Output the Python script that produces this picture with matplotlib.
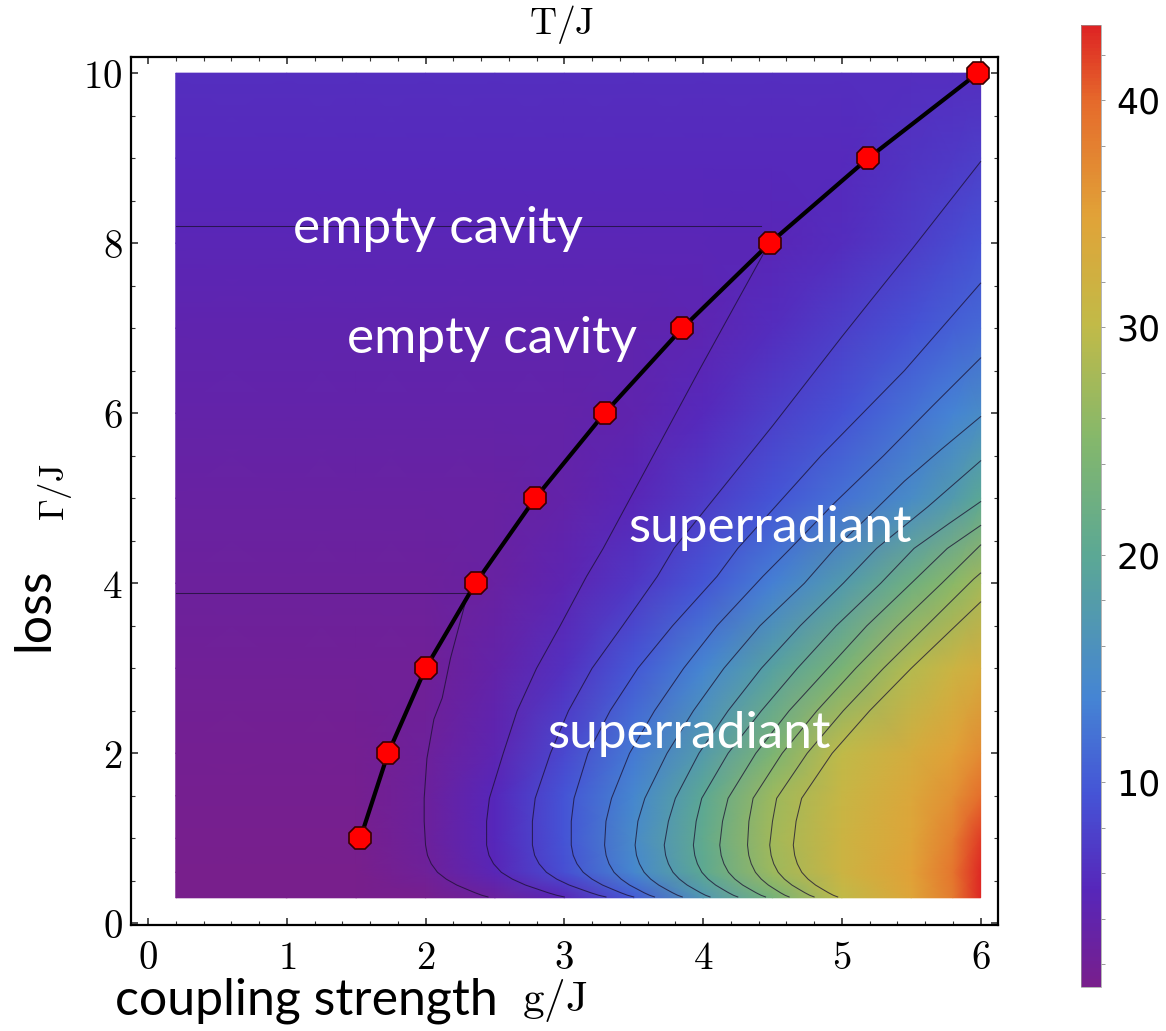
import numpy as np
import matplotlib
matplotlib.use('Agg')
import matplotlib.pyplot as plt
from matplotlib.colors import LinearSegmentedColormap

plt.rcParams['mathtext.fontset'] = 'cm'

W, H = 1166, 1031

# critical coupling for each loss rate (red markers)
gamma_pts = [1, 2, 3, 4, 5, 6, 7, 8, 9, 10]
g_crit = [1.53, 1.73, 2.00, 2.36, 2.79, 3.29, 3.85, 4.48, 5.19, 5.98]

# sampled T/J on a (loss, coupling) grid
g_grid = [0.2, 1.0, 1.5, 2.0, 2.5, 3.0, 3.5, 4.0, 4.5, 5.0, 5.5, 5.8, 6.0]
gamma_grid = [0.3, 0.6, 1.0, 1.5, 2.0, 3.0, 4.0, 5.0, 6.0, 7.0, 8.0, 9.0, 10.0]
t_field = [
    [1.0, 1.0, 1.0, 1.3, 2.7, 5.0, 10.0, 16.9, 23.2, 30.0, 34.5, 38.5, 43.0],
    [1.1, 1.1, 1.1, 2.2, 5.0, 9.0, 14.2, 20.2, 27.0, 31.5, 35.0, 39.0, 43.0],
    [1.2, 1.2, 1.2, 2.5, 5.4, 9.5, 14.8, 20.8, 27.6, 31.5, 34.5, 38.0, 42.0],
    [1.4, 1.4, 1.4, 2.5, 5.3, 9.5, 14.2, 20.1, 27.0, 31.0, 34.0, 36.5, 39.5],
    [1.6, 1.6, 1.6, 2.45, 4.6, 8.3, 12.8, 17.8, 24.1, 30.0, 33.0, 35.0, 37.0],
    [2.1, 2.1, 2.1, 2.1, 3.8, 6.25, 9.8, 13.9, 18.7, 23.8, 29.0, 31.5, 33.0],
    [2.55, 2.55, 2.55, 2.55, 3.0, 4.6, 6.85, 9.65, 13.3, 17.4, 22.5, 25.5, 27.5],
    [3.1, 3.1, 3.1, 3.1, 3.1, 3.8, 5.0, 7.2, 9.5, 12.0, 15.0, 17.5, 20.0],
    [3.7, 3.7, 3.7, 3.7, 3.7, 3.7, 4.2, 5.6, 7.5, 9.4, 12.0, 13.7, 15.0],
    [4.3, 4.3, 4.3, 4.3, 4.3, 4.3, 4.3, 4.6, 5.8, 7.5, 9.3, 10.5, 11.3],
    [4.95, 4.95, 4.95, 4.95, 4.95, 4.95, 4.95, 4.95, 5.0, 5.9, 7.3, 8.6, 9.3],
    [5.5, 5.5, 5.5, 5.5, 5.5, 5.5, 5.5, 5.5, 5.5, 5.5, 6.5, 7.1, 7.5],
    [6.0, 6.0, 6.0, 6.0, 6.0, 6.0, 6.0, 6.0, 6.0, 6.0, 6.0, 6.0, 6.0],
]

# iso-T lines traced in the (g, Gamma) plane
hook_gamma = [0.31, 0.33, 0.36, 0.40, 0.45, 0.52, 0.60, 0.70, 0.80, 0.92, 1.20]
flat_lines = [
    ([0.2, 2.31], [3.88, 3.88]),
    ([0.2, 4.42], [8.20, 8.20]),
]
iso_lines = [
    ([2.45, 2.405, 2.356, 2.297, 2.225, 2.149, 2.086, 2.041, 2.014, 2.00, 1.99,
      1.99, 2.01, 2.06, 2.12, 2.18, 2.27, 2.30],
     hook_gamma + [1.47, 1.94, 2.40, 2.65, 3.12, 3.67, 3.85]),
    ([3.00, 2.944, 2.882, 2.810, 2.720, 2.625, 2.546, 2.490, 2.457, 2.44, 2.44,
      2.46, 2.56, 2.66, 2.80, 2.97, 3.16, 3.28, 3.64, 3.97, 4.24, 4.46],
     hook_gamma + [1.47, 2.00, 2.50, 3.00, 3.50, 4.08, 4.41, 5.50, 6.50, 7.30, 7.95]),
    ([3.30, 3.247, 3.189, 3.120, 3.035, 2.945, 2.871, 2.818, 2.786, 2.77, 2.77,
      2.79, 2.90, 3.03, 3.20, 3.42, 3.67, 3.79, 4.50, 5.00, 5.22, 5.51, 6.00],
     hook_gamma + [1.47, 2.00, 2.50, 3.00, 3.50, 4.08, 4.41, 5.85, 6.90, 7.35, 7.94, 8.96]),
    ([3.50, 3.455, 3.406, 3.347, 3.275, 3.199, 3.136, 3.091, 3.064, 3.05, 3.05,
      3.07, 3.17, 3.33, 3.53, 3.78, 4.10, 4.25, 4.85, 5.45, 6.00],
     hook_gamma + [1.47, 2.00, 2.50, 3.00, 3.50, 4.08, 4.41, 5.50, 6.50, 7.53]),
    ([3.65, 3.614, 3.574, 3.528, 3.470, 3.409, 3.358, 3.322, 3.301, 3.29, 3.30,
      3.34, 3.47, 3.65, 3.86, 4.10, 4.43, 4.63, 4.95, 5.30, 5.65, 6.00],
     hook_gamma + [1.47, 2.00, 2.50, 3.00, 3.50, 4.08, 4.41, 4.95, 5.50, 6.08, 6.65]),
    ([3.85, 3.816, 3.779, 3.734, 3.680, 3.622, 3.575, 3.541, 3.520, 3.51, 3.53,
      3.58, 3.74, 3.93, 4.15, 4.41, 4.73, 4.95, 5.20, 5.45, 5.72, 6.00],
     hook_gamma + [1.47, 2.00, 2.50, 3.00, 3.50, 4.00, 4.41, 4.80, 5.20, 5.58, 5.96]),
    ([4.05, 4.017, 3.981, 3.938, 3.885, 3.829, 3.783, 3.750, 3.730, 3.72, 3.75,
      3.80, 3.97, 4.18, 4.42, 4.70, 5.01, 5.25, 5.62, 6.00],
     hook_gamma + [1.47, 2.00, 2.50, 3.00, 3.50, 4.00, 4.41, 4.90, 5.44]),
    ([4.25, 4.218, 4.183, 4.141, 4.090, 4.036, 3.991, 3.959, 3.940, 3.93, 3.95,
      3.99, 4.18, 4.42, 4.68, 4.96, 5.28, 5.52, 5.77, 6.00],
     hook_gamma + [1.47, 2.00, 2.50, 3.00, 3.50, 4.00, 4.41, 4.70, 4.96]),
    ([4.45, 4.417, 4.381, 4.338, 4.285, 4.229, 4.183, 4.150, 4.130, 4.12, 4.14,
      4.18, 4.38, 4.62, 4.90, 5.18, 5.50, 5.76, 6.00],
     hook_gamma + [1.47, 2.00, 2.50, 3.00, 3.50, 4.00, 4.41, 4.68]),
    ([4.62, 4.590, 4.557, 4.518, 4.470, 4.419, 4.377, 4.347, 4.329, 4.32, 4.33,
      4.36, 4.57, 4.82, 5.10, 5.40, 5.72, 6.00],
     hook_gamma + [1.47, 2.00, 2.50, 3.00, 3.50, 4.00, 4.45]),
    ([4.80, 4.768, 4.733, 4.691, 4.640, 4.586, 4.541, 4.509, 4.490, 4.48, 4.50,
      4.53, 4.75, 5.01, 5.30, 5.61, 5.95, 6.00],
     hook_gamma + [1.47, 2.00, 2.50, 3.00, 3.50, 4.05, 4.12]),
    ([4.97, 4.938, 4.903, 4.861, 4.810, 4.756, 4.711, 4.679, 4.660, 4.65, 4.67,
      4.71, 4.93, 5.20, 5.50, 5.82, 6.00],
     hook_gamma + [1.47, 2.00, 2.50, 3.00, 3.50, 3.78]),
]

x_ticks = [0, 1, 2, 3, 4, 5, 6]
y_ticks = [0, 2, 4, 6, 8, 10]
cbar_ticks = [10, 20, 30, 40]
t_min, t_max = 1.0, 43.3

rainbow = LinearSegmentedColormap.from_list('rainbow_mma', [
    (0.00, (0.47, 0.12, 0.55)),
    (0.10, (0.34, 0.15, 0.73)),
    (0.20, (0.27, 0.33, 0.84)),
    (0.30, (0.27, 0.52, 0.83)),
    (0.45, (0.36, 0.66, 0.58)),
    (0.57, (0.52, 0.72, 0.42)),
    (0.69, (0.76, 0.73, 0.28)),
    (0.80, (0.88, 0.64, 0.22)),
    (0.92, (0.90, 0.42, 0.17)),
    (1.00, (0.87, 0.14, 0.14)),
])


def fig_xy(px, py):
    return px / W, 1 - py / H


fig = plt.figure(figsize=(W / 100, H / 100), dpi=100)
ax = fig.add_axes([131 / W, 1 - 925 / H, (998 - 131) / W, (925 - 57) / H])

G, GAM = np.meshgrid(g_grid, gamma_grid)
ax.pcolormesh(G, GAM, np.array(t_field), cmap=rainbow, vmin=t_min, vmax=t_max,
              shading='gouraud', rasterized=True)

for gs, gams in flat_lines + iso_lines:
    ax.plot(gs, gams, color='#1a1030', lw=0.75, alpha=0.75, solid_joinstyle='round')

ax.plot(g_crit, gamma_pts, color='black', lw=3, zorder=3, solid_joinstyle='round')
ax.plot(g_crit, gamma_pts, ls='none', marker='8', ms=17, mfc='#ff0000',
        mec='#3a0000', mew=1.2, zorder=4)

ax.set_xlim(-0.1225, 6.125)
ax.set_ylim(-0.02, 10.19)
ax.set_xticks(x_ticks)
ax.set_yticks(y_ticks)
ax.set_xticks(np.arange(0, 6.01, 0.2), minor=True)
ax.set_yticks(np.arange(0, 10.01, 0.5), minor=True)
ax.set_xticklabels([f'${v}$' for v in x_ticks], fontsize=28)
ax.set_yticklabels([f'${v}$' for v in y_ticks], fontsize=28)
ax.tick_params(which='both', direction='in', top=True, right=True, color='#333333')
ax.tick_params(which='major', length=5, width=1.2)
ax.tick_params(which='minor', length=3, width=0.8)
ax.tick_params(axis='x', pad=10)
ax.tick_params(axis='y', pad=6)
for sp in ax.spines.values():
    sp.set_linewidth(1.6)

# colour bar
cax = fig.add_axes([1081 / W, 1 - 987 / H, 20 / W, (987 - 25) / H])
sm = plt.cm.ScalarMappable(cmap=rainbow, norm=plt.Normalize(t_min, t_max))
cb = fig.colorbar(sm, cax=cax)
cb.set_ticks(cbar_ticks)
cb.set_ticklabels([str(v) for v in cbar_ticks])
cb.ax.set_yticks(np.arange(2, 43, 2), minor=True)
cb.ax.tick_params(which='both', direction='out', colors='#888888', labelcolor='black',
                  labelsize=25, length=3, width=0.6, pad=8)
for lab in cb.ax.get_yticklabels():
    lab.set_family('DejaVu Sans')
cb.outline.set_linewidth(0.5)
cb.outline.set_edgecolor('#999999')

# axis titles and phase labels
fig.text(*fig_xy(562, 25), r'$\mathrm{T/J}$', fontsize=27, ha='center', va='center')
fig.text(*fig_xy(55, 492), r'$\Gamma\mathrm{/J}$', fontsize=25, ha='center', va='center',
         rotation=90)
fig.text(*fig_xy(555, 1000), r'$\mathrm{g/J}$', fontsize=31, ha='center', va='center')
fig.text(*fig_xy(115, 1015), 'coupling strength', fontsize=36, family='Lato',
         ha='left', va='baseline')
fig.text(*fig_xy(57, 609), 'loss', fontsize=36, family='Lato', ha='right', va='center',
         rotation=90)

for text, px, py in [('empty cavity', 293, 243), ('empty cavity', 347, 353),
                     ('superradiant', 628, 542), ('superradiant', 547, 748)]:
    fig.text(*fig_xy(px, py), text, fontsize=37, family='Lato', color='white',
             ha='left', va='baseline')

fig.savefig('out.png', dpi=100)
